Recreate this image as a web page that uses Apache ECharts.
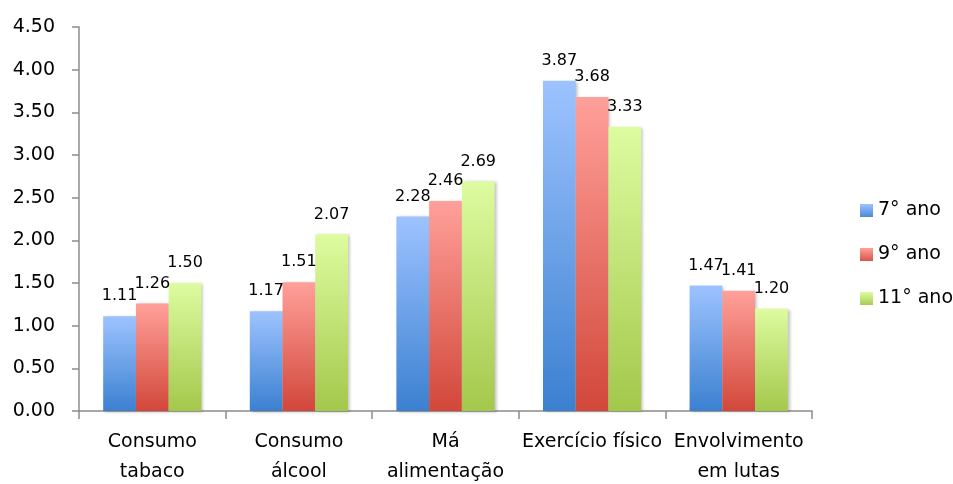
<!DOCTYPE html>
<html>
<head>
<meta charset="utf-8">
<script src="https://cdn.jsdelivr.net/npm/echarts@6/dist/echarts.min.js"></script>
<style>
  html, body { margin: 0; padding: 0; background: #fff; }
  #chart { width: 953px; height: 484px; }
</style>
</head>
<body>
<div id="chart"></div>
<script>
// Categories (school-year comparison of risk behaviours)
const categories = ['Consumo\ntabaco', 'Consumo\nálcool', 'Má\nalimentação', 'Exercício físico', 'Envolvimento\nem lutas'];
const seriesNames = ['7° ano', '9° ano', '11° ano'];
const ano7 = [1.11, 1.17, 2.28, 3.87, 1.47];
const ano9 = [1.26, 1.51, 2.46, 3.68, 1.41];
const ano11 = [1.50, 2.07, 2.69, 3.33, 1.20];
const yTicks = { min: 0, max: 4.5, interval: 0.5 };

const FONT = '"DejaVu Sans", "Liberation Sans", sans-serif';

function grad(top, bottom) {
  return new echarts.graphic.LinearGradient(0, 0, 0, 1, [
    { offset: 0, color: top },
    { offset: 1, color: bottom }
  ]);
}

const palette = [
  ['#9dc3ff', '#3b80d0'],
  ['#ffa09a', '#d2473a'],
  ['#ddfca0', '#a3c84b']
];
const legendColors = [grad('#9dc3ff', '#4a88d6'), grad('#ffa09a', '#d8554a'), grad('#ddfca0', '#a9cc55')];

const values = [ano7, ano9, ano11];

const chart = echarts.init(document.getElementById('chart'), null, { renderer: 'canvas' });

chart.setOption({
  animation: false,
  grid: { left: 79, right: 141, top: 27, bottom: 73, outerBoundsMode: 'none', containLabel: false },
  legend: {
    orient: 'vertical',
    left: 855,
    top: 196,
    itemWidth: 13,
    itemHeight: 13,
    itemGap: 25,
    icon: 'rect',
    textStyle: { fontFamily: FONT, fontSize: 19, color: '#000' },
    data: seriesNames.map((n, i) => ({ name: n, itemStyle: { color: legendColors[i] } }))
  },
  xAxis: {
    type: 'category',
    data: categories,
    axisLine: { lineStyle: { color: '#8c8c8c', width: 1.5 } },
    axisTick: { show: true, length: 8, alignWithLabel: false, lineStyle: { color: '#8c8c8c', width: 1.5 } },
    axisLabel: {
      interval: 0,
      margin: 16,
      fontFamily: FONT,
      fontSize: 19,
      lineHeight: 30,
      color: '#000'
    }
  },
  yAxis: {
    type: 'value',
    min: yTicks.min,
    max: yTicks.max,
    interval: yTicks.interval,
    splitLine: { show: false },
    axisLine: { show: true, lineStyle: { color: '#8c8c8c', width: 1.5 } },
    axisTick: { show: true, length: 7, lineStyle: { color: '#8c8c8c', width: 1.5 } },
    axisLabel: {
      margin: 24,
      fontFamily: FONT,
      fontSize: 19,
      color: '#000',
      formatter: v => v.toFixed(2)
    }
  },
  series: seriesNames.map((name, i) => ({
    name,
    type: 'bar',
    data: values[i],
    barGap: '0%',
    barCategoryGap: '33%',
    itemStyle: {
      color: grad(palette[i][0], palette[i][1]),
      shadowColor: 'rgba(0,0,0,0.25)',
      shadowBlur: 3,
      shadowOffsetX: 2,
      shadowOffsetY: 1
    },
    label: {
      show: true,
      position: 'top',
      distance: 12,
      fontFamily: FONT,
      fontSize: 16,
      color: '#000',
      formatter: p => p.value.toFixed(2)
    }
  }))
});
</script>
</body>
</html>
